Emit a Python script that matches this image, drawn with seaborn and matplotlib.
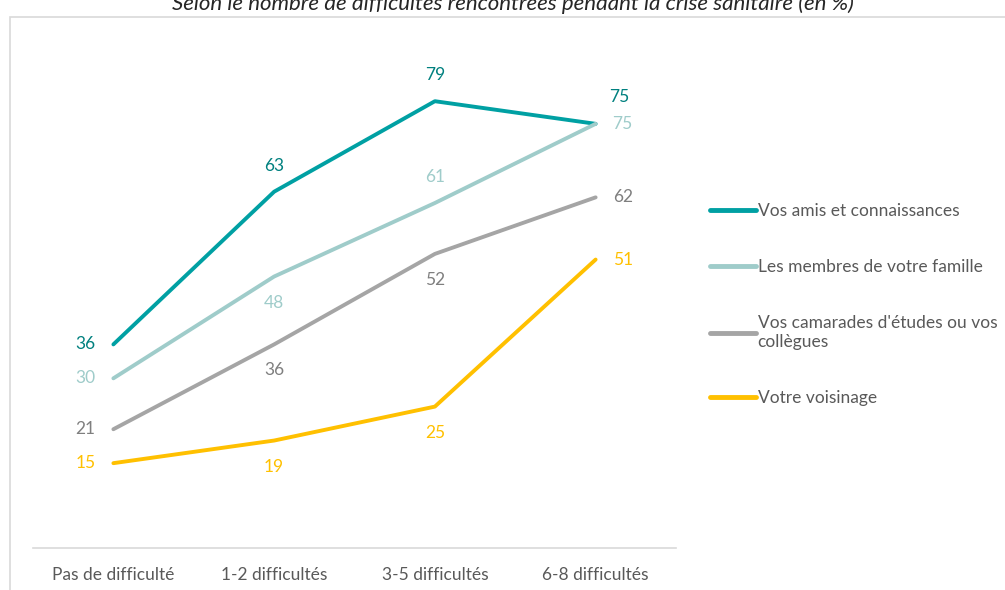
import numpy as np
import pandas as pd
import matplotlib
matplotlib.use('Agg')
import matplotlib.pyplot as plt
from matplotlib.patches import Rectangle
import seaborn as sns

categories = ['Pas de difficulté', '1-2 difficultés', '3-5 difficultés', '6-8 difficultés']
series_names = ['Vos amis et connaissances', 'Les membres de votre famille',
                "Vos camarades d'études ou vos\ncollègues", 'Votre voisinage']
amis = [36, 63, 79, 75]
famille = [30, 48, 61, 75]
camarades = [21, 36, 52, 62]
voisinage = [15, 19, 25, 51]

line_colors = ['#00A0A3', '#9FCCCA', '#A5A5A5', '#FFC000']
text_colors = ['#00807F', '#9FCCCA', '#7F7F7F', '#FFC000']
# label placement per series, per point: (dx px, dy px)
offsets = [
    [(-28, 0), (0, 26), (0, 26), (24, 27)],
    [(-28, 0), (0, -26), (0, 26), (27, 0)],
    [(-28, 0), (0, -26), (0, -26), (27, 0)],
    [(-28, 0), (0, -26), (0, -26), (27, 0)],
]

rows = []
for name, vals in zip(series_names, [amis, famille, camarades, voisinage]):
    for i, v in enumerate(vals):
        rows.append({'cat': i, 'val': v, 'serie': name})
df = pd.DataFrame(rows)

sns.set_theme(style='white')
plt.rcParams['font.family'] = ['Lato', 'DejaVu Sans']

W, H = 1005, 590
fig = plt.figure(figsize=(W / 100, H / 100), dpi=100)
ax = fig.add_axes([33 / W, 1 - 548 / H, (676 - 33) / W, (548 - 39) / H])

# outer frame
fig.patches.append(Rectangle((10 / W, -0.1), 1.2, 1 - 17 / H + 0.1, transform=fig.transFigure,
                             fill=False, edgecolor='#D9D9D9', linewidth=1.2))

sns.lineplot(data=df, x='cat', y='val', hue='serie', palette=line_colors,
             linewidth=2.8, ax=ax, legend=True)

for k, vals in enumerate([amis, famille, camarades, voisinage]):
    for i, v in enumerate(vals):
        dx, dy = offsets[k][i]
        ax.annotate(str(v), (i, v), xytext=(dx * 0.72, dy * 0.72), textcoords='offset points',
                    ha='center', va='center', fontsize=12.5, color=text_colors[k])

ax.set_xlim(-0.5, 3.5)
ax.set_ylim(0, 90)
ax.set_xticks(range(4))
ax.set_xticklabels(categories, fontsize=12.5, color='#595959')
ax.set_yticks([])
ax.set_xlabel('')
ax.set_ylabel('')
ax.tick_params(axis='x', length=0, pad=14)
for s in ['top', 'right', 'left']:
    ax.spines[s].set_visible(False)
ax.spines['bottom'].set_color('#D9D9D9')
ax.spines['bottom'].set_linewidth(1.2)
ax.patch.set_alpha(0)

leg = ax.legend(loc='upper left', bbox_to_anchor=(703 / W, 1 - 196 / H),
                bbox_transform=fig.transFigure, frameon=False, fontsize=12.5,
                handlelength=2.65, handletextpad=0.1, labelspacing=2.3, borderaxespad=0)
for t in leg.get_texts():
    t.set_color('#595959')
    t.set_linespacing(1.25)
for h in leg.get_lines():
    h.set_linewidth(3.5)

fig.text(513 / W, 1 - 4 / H, 'Selon le nombre de difficultés rencontrées pendant la crise sanitaire (en %)',
         ha='center', va='center', fontsize=16, style='italic', color='#262626')

fig.savefig('out.png', dpi=100)
